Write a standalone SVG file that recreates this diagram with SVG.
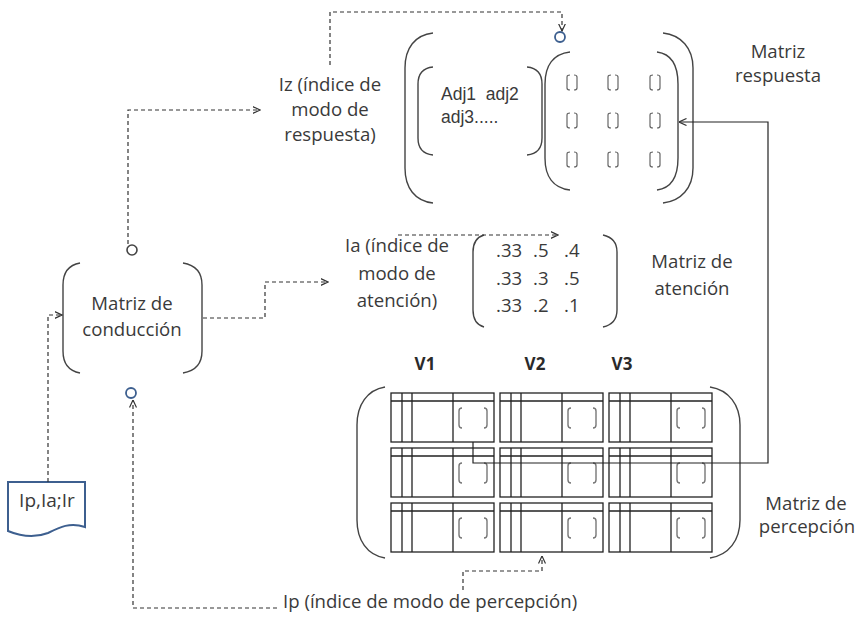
<svg xmlns="http://www.w3.org/2000/svg" width="859" height="619" viewBox="0 0 859 619">
<style>
.bg{fill:#ffffff}
.t{font-family:"Open Sans","Noto Sans",sans-serif;font-size:18.6px;fill:#3a3a3a;text-anchor:middle}
.ts{font-family:"Open Sans","Noto Sans",sans-serif;font-size:18.6px;fill:#3a3a3a}
.tb{font-family:"Open Sans","Noto Sans",sans-serif;font-size:17px;font-weight:bold;fill:#2a2a2a;text-anchor:middle}
.ta{font-family:"Liberation Sans",Arial,sans-serif;font-size:17.5px;fill:#3a3a3a;white-space:pre}
.par{fill:none;stroke:#444;stroke-width:1.4}
.dash{fill:none;stroke:#333;stroke-width:1.2;stroke-dasharray:4 3}
.solid{fill:none;stroke:#222;stroke-width:1.2}
.circ{fill:#fff;stroke:#3d5f8f;stroke-width:1.8}
.circg{fill:#fff;stroke:#444;stroke-width:1.6}
.cell{fill:#fff;stroke:#222;stroke-width:1.3}
.br{fill:none;stroke:#777;stroke-width:1.4}
.sbr{fill:none;stroke:#666;stroke-width:1.2}
.doc{fill:#fff;stroke:#3d5f8f;stroke-width:2}
</style>
<defs>
<marker id="ah" viewBox="0 0 8 8" refX="7.5" refY="4" markerWidth="8" markerHeight="8" markerUnits="userSpaceOnUse" orient="auto">
<path d="M0,0.5 L7.5,4 L0,7.5" fill="none" stroke="#333" stroke-width="1.2"/>
</marker>
<g id="cellg">
<rect class="cell" x="0" y="0" width="103" height="49"/>
<path class="cell" d="M0,8 H103 M11,0 V49 M21,0 V49 M62,0 V49"/>
<path class="br" d="M71,15 Q68,15 68,18 V32 Q68,35 71,35 M93,15 Q96,15 96,18 V32 Q96,35 93,35"/>
</g>
<g id="sb">
<path class="sbr" d="M3,0 Q0,0 0,2 V13 Q0,15 3,15 M7,0 Q10,0 10,2 V13 Q10,15 7,15"/>
</g>
</defs>
<rect class="bg" x="0" y="0" width="859" height="619"/>

<g id="conduccion">
<path class="par" d="M80,263 C69,265 63,272 63,285 V351 C63,364 69,371 80,373"/>
<path class="par" d="M183,263 C195,265 202,272 202,285 V351 C202,364 195,371 183,373"/>
<text class="t" x="132" y="310">Matriz de</text>
<text class="t" x="132" y="336">conducción</text>
</g>

<g id="documento">
<path class="doc" d="M8,482 H85 V527 C70,522 60,527 48,533 C35,538 20,536 8,531 Z"/>
<text class="t" x="47" y="507" style="font-size:19px">Ip,Ia;Ir</text>
</g>

<g id="iz-label">
<text class="t" x="330" y="91">Iz (índice de</text>
<text class="t" x="330" y="116">modo de</text>
<text class="t" x="330" y="141">respuesta)</text>
</g>

<g id="matriz-respuesta">
<path class="par" d="M433,33 C415,35 405,48 405,68 V168 C405,188 415,201 433,203"/>
<path class="par" d="M663,33 C681,35 693,48 693,68 V168 C693,188 681,201 663,203"/>
<path class="par" d="M433,67 C423,68 418,74 418,84 V138 C418,148 423,154 433,155"/>
<path class="par" d="M527,67 C537,68 542,74 542,84 V138 C542,148 537,154 527,155"/>
<text class="ta" x="441" y="100" xml:space="preserve">Adj1  adj2</text>
<text class="ta" x="441" y="123">adj3.....</text>
<path class="par" d="M570,52 C553,54 545,66 545,84 V158 C545,176 553,188 570,190"/>
<path class="par" d="M657,52 C672,54 678,66 678,84 V158 C678,176 672,188 657,190"/>
<use href="#sb" x="567" y="75"/>
<use href="#sb" x="608" y="75"/>
<use href="#sb" x="650" y="75"/>
<use href="#sb" x="567" y="113"/>
<use href="#sb" x="608" y="113"/>
<use href="#sb" x="650" y="113"/>
<use href="#sb" x="567" y="152"/>
<use href="#sb" x="608" y="152"/>
<use href="#sb" x="650" y="152"/>
<text class="t" x="778" y="58">Matriz</text>
<text class="t" x="778" y="82">respuesta</text>
</g>

<g id="ia-label">
<text class="t" x="397" y="252">Ia (índice de</text>
<text class="t" x="397" y="280">modo de</text>
<text class="t" x="397" y="307">atención)</text>
</g>

<g id="matriz-atencion">
<path class="par" d="M484,235 C477,237 473,243 473,252 V310 C473,319 477,325 484,327"/>
<path class="par" d="M603,235 C612,237 617,243 617,252 V310 C617,319 612,325 603,327"/>
<text class="ts" x="496" y="257">.33</text><text class="ts" x="533" y="257">.5</text><text class="ts" x="564" y="257">.4</text>
<text class="ts" x="496" y="285">.33</text><text class="ts" x="533" y="285">.3</text><text class="ts" x="564" y="285">.5</text>
<text class="ts" x="496" y="312">.33</text><text class="ts" x="533" y="312">.2</text><text class="ts" x="564" y="312">.1</text>
<text class="t" x="692" y="268">Matriz de</text>
<text class="t" x="692" y="295">atención</text>
</g>

<g id="matriz-percepcion">
<text class="tb" x="425" y="370">V1</text>
<text class="tb" x="535" y="370">V2</text>
<text class="tb" x="622" y="370">V3</text>
<path class="par" d="M385,387 C367,390 357,405 357,425 V520 C357,540 367,555 385,558"/>
<path class="par" d="M710,387 C729,390 740,405 740,425 V520 C740,540 729,555 710,558"/>
<use href="#cellg" x="391" y="393"/>
<use href="#cellg" x="500" y="393"/>
<use href="#cellg" x="609" y="393"/>
<use href="#cellg" x="391" y="448"/>
<use href="#cellg" x="500" y="448"/>
<use href="#cellg" x="609" y="448"/>
<use href="#cellg" x="391" y="503"/>
<use href="#cellg" x="500" y="503"/>
<use href="#cellg" x="609" y="503"/>
<text class="t" x="806" y="510">Matriz de</text>
<text class="t" x="807" y="533">percepción</text>
</g>

<g id="ip-label">
<text class="ts" x="283" y="608">Ip (índice de modo de percepción)</text>
</g>

<g id="connectors">
<path class="dash" d="M128,244 V110 H260" marker-end="url(#ah)"/>
<path class="dash" d="M330,65 V12 H562 V31" marker-end="url(#ah)"/>
<path class="dash" d="M203,318 H265 V282 H328" marker-end="url(#ah)"/>
<path class="dash" d="M398,235 H558" marker-end="url(#ah)"/>
<path class="dash" d="M48,482 V315 H62" marker-end="url(#ah)"/>
<path class="dash" d="M277,608 H133 V400" marker-end="url(#ah)"/>
<path class="dash" d="M463,590 V571 H542 V556" marker-end="url(#ah)"/>
<path class="solid" d="M473,442 V463 H768 V122 H679" marker-end="url(#ah)"/>
</g>

<g id="ports">
<circle class="circg" cx="132" cy="250" r="5"/>
<circle class="circ" cx="131" cy="393" r="5"/>
<circle class="circ" cx="560" cy="37" r="5"/>
</g>
</svg>
